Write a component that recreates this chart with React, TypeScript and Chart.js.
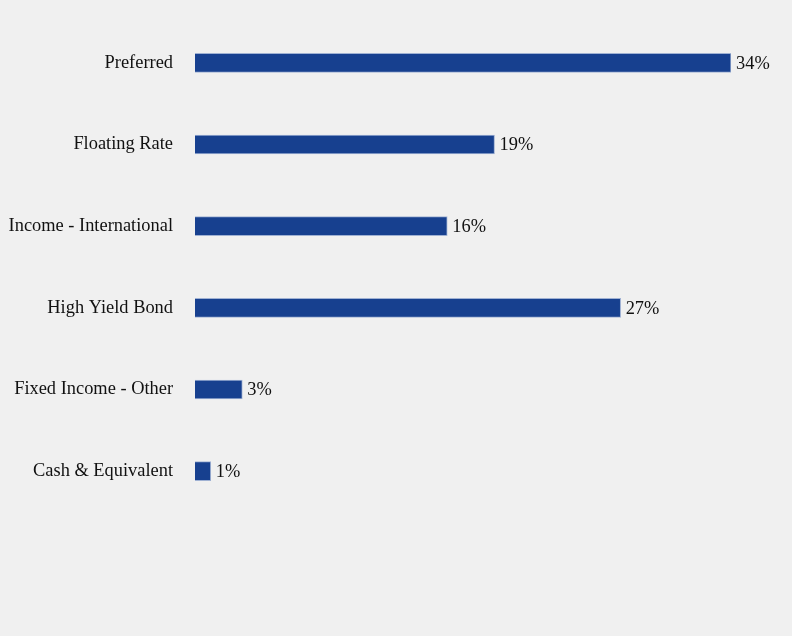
import { useEffect, useRef } from 'react'
import Chart from 'chart.js/auto'

const categories = ['Preferred', 'Floating Rate', 'Income - International', 'High Yield Bond', 'Fixed Income - Other', 'Cash & Equivalent']
const weights = [34, 19, 16, 27, 3, 1]

const valueLabels = {
  id: 'valueLabels',
  afterDatasetsDraw(chart: any) {
    const ctx = chart.ctx
    const meta = chart.getDatasetMeta(0)
    ctx.save()
    ctx.font = '18.4px "Liberation Serif", "Times New Roman", serif'
    ctx.fillStyle = '#111111'
    ctx.textAlign = 'left'
    ctx.textBaseline = 'middle'
    meta.data.forEach((bar: any, i: number) => {
      ctx.fillText(weights[i] + '%', bar.x + 5, bar.y + 1)
    })
    ctx.restore()
  }
}

export default function App() {
  const canvasRef = useRef<HTMLCanvasElement | null>(null)
  const chartRef = useRef<any>(null)

  useEffect(() => {
    document.body.style.margin = '0'
    const ctx = canvasRef.current?.getContext('2d')
    if (!ctx) return
    if (chartRef.current) chartRef.current.destroy()

    chartRef.current = new Chart(ctx, {
      type: 'bar',
      data: {
        labels: categories,
        datasets: [{
          data: weights,
          backgroundColor: '#17408f',
          borderColor: '#9fb1d3',
          borderWidth: 1,
          barThickness: 19
        }]
      },
      options: {
        indexAxis: 'y',
        animation: false,
        responsive: false,
        maintainAspectRatio: false,
        layout: { padding: { top: 22, bottom: 124, left: 0, right: 61 } },
        plugins: { legend: { display: false }, tooltip: { enabled: false } },
        scales: {
          x: { display: false, min: 0, max: 34 },
          y: {
            grid: { display: false, drawTicks: false },
            border: { display: false },
            afterFit: (scale: any) => {
              scale.width = 195
              scale.paddingTop = 0
              scale.paddingBottom = 0
            },
            ticks: {
              padding: 22,
              color: '#111111',
              font: { family: '"Liberation Serif", "Times New Roman", serif', size: 18.4 }
            }
          }
        }
      },
      plugins: [valueLabels]
    })

    return () => chartRef.current?.destroy()
  }, [])

  return (
    <div style={{ width: 792, height: 636, background: '#f0f0f0' }}>
      <canvas ref={canvasRef} width={792} height={636} />
    </div>
  )
}
